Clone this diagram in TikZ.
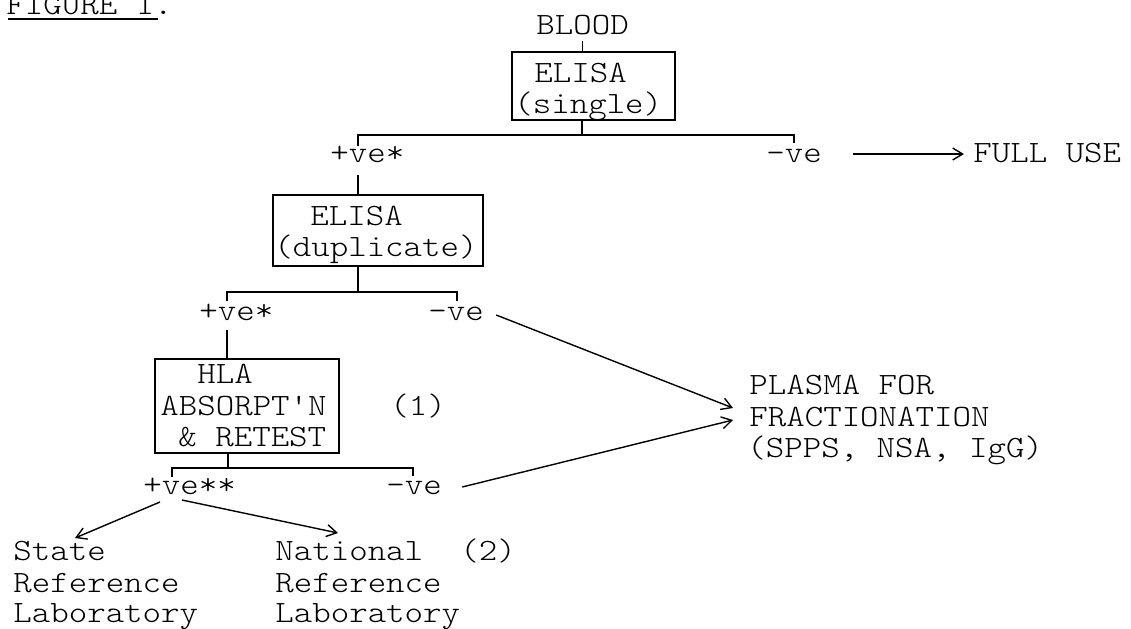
\documentclass[tikz,border=0pt]{standalone}
\usepackage{fontspec}
\newfontfamily\tw{lmmonolt10-regular.otf}[FakeStretch=1.135]
\usetikzlibrary{arrows.meta,calc,fit}
\tikzset{
  txt/.style={font={\tw\fontsize{15.5pt}{15.5pt}\selectfont}, inner sep=0pt, anchor=base west},
  boxframe/.style={draw, inner sep=0pt, line width=0.75pt},
  conn/.style={line width=0.7pt},
  arr/.style={line width=0.7pt, -{Straight Barb[length=5pt,width=6pt]}}
}
\begin{document}
\begin{tikzpicture}[x=0.5pt,y=-0.5pt]
\useasboundingbox (0,0) rectangle (1131,628);
% title (cut by the top edge, as in the reference)
\node[txt] (fig) at (6,14) {FIGURE 1.};
\draw[conn] ($(fig.base west)+(2,5)$) -- ($(fig.base west)+(152,5)$);
% level 0
\node[txt] (blood) at (536,34) {BLOOD};
\node[boxframe, fit={(512,52) (675,120)}] (b1) {};
\node[txt] (b1a) at (534,82) {ELISA};
\node[txt] (b1b) at (514,113) {(single)};
\coordinate (j1) at (582,135);
\coordinate (t1a) at (358,135);
\coordinate (t1b) at (794,135);
\draw[conn] ($(blood.south)+(0,6)$) -- (blood.south |- b1.north);
\draw[conn] (j1 |- b1.south) -- (j1);
\node[txt] (pos1) at (330,162) {+ve*};
\node[txt] (neg1) at (766,162) {-ve};
\node[txt] (full) at (973,162) {FULL USE};
\draw[conn] ($(t1a)+(0,11)$) -- (t1a) -- (t1b) -- ($(t1b)+(0,8)$);
\draw[arr] ($(neg1.base east)+(31,-8)$) -- ($(full.base west)+(-9,-8)$);
% level 1
\node[boxframe, fit={(273,195) (483,266)}] (b2) {};
\node[txt] (b2a) at (310,225) {ELISA};
\node[txt] (b2b) at (274,256) {(duplicate)};
\draw[conn] ($(t1a)+(0,40)$) -- (t1a |- b2.north);
\coordinate (j2) at (358,292);
\coordinate (t2a) at (227,292);
\coordinate (t2b) at (457,292);
\draw[conn] (j2 |- b2.south) -- (j2);
\draw[conn] ($(t2a)+(0,9)$) -- (t2a) -- (t2b) -- ($(t2b)+(0,9)$);
\node[txt] (pos2) at (199,320) {+ve*};
\node[txt] (neg2) at (428,320) {-ve};
% level 2
\node[boxframe, fit={(155,359) (339,453)}] (b3) {};
\node[txt] (b3a) at (197,383) {HLA};
\node[txt] (b3b) at (160,415) {ABSORPT'N};
\node[txt] (b3c) at (178,446) {\& RETEST};
\node[txt] (one) at (390,415) {(1)};
\draw[conn] ($(t2a)+(0,38)$) -- (t2a |- b3.north);
\coordinate (j3) at (228,468);
\coordinate (t3a) at (172,468);
\coordinate (t3b) at (413,468);
\draw[conn] (j3 |- b3.south) -- (j3);
\draw[conn] ($(t3a)+(0,9)$) -- (t3a) -- (t3b) -- ($(t3b)+(0,8)$);
\node[txt] (pos3) at (143,494) {+ve**};
\node[txt] (neg3) at (386,494) {-ve};
% outcomes
\node[txt] (st1) at (13,560) {State};
\node[txt] (st2) at (13,592) {Reference};
\node[txt] (st3) at (13,622) {Laboratory};
\node[txt] (na1) at (275,560) {National};
\node[txt] (na2) at (275,592) {Reference};
\node[txt] (na3) at (275,622) {Laboratory};
\node[txt] (two) at (460,560) {(2)};
\node[txt] (pl1) at (749,394) {PLASMA FOR};
\node[txt] (pl2) at (749,426) {FRACTIONATION};
\node[txt] (pl3) at (747,457) {(SPPS, NSA, IgG)};
% arrows
\draw[arr] ($(neg2.base east)+(12,-5)$) -- ($(pl2.base west)+(-16,-18)$);
\draw[arr] ($(neg3.base east)+(20,-7)$) -- ($(pl2.base west)+(-16,-6)$);
\draw[arr] ($(pos3.base west)+(17,8)$) -- ($(st1.base west)+(62,-22)$);
\draw[arr] ($(pos3.base west)+(39,6)$) -- ($(na1.base west)+(63,-27)$);
\end{tikzpicture}
\end{document}
